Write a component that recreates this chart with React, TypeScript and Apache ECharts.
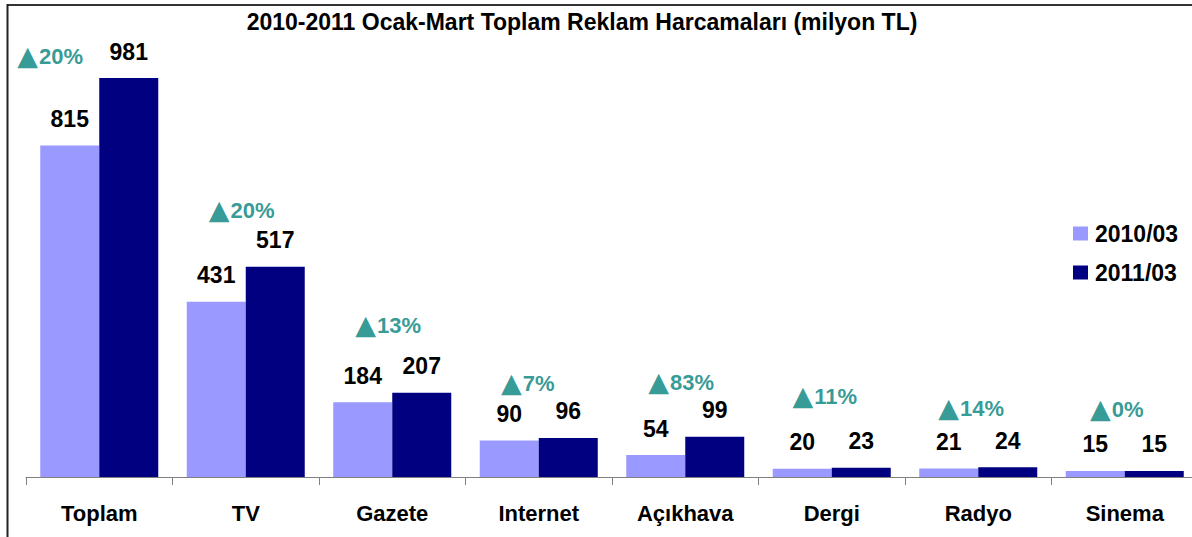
import React, { useEffect, useRef } from "react";
import * as echarts from "echarts";

const categories = ["Toplam", "TV", "Gazete", "Internet", "Açıkhava", "Dergi", "Radyo", "Sinema"];
const values2010 = [815, 431, 184, 90, 54, 20, 21, 15];
const values2011 = [981, 517, 207, 96, 99, 23, 24, 15];
const changePct = [20, 20, 13, 7, 83, 11, 14, 0];
const seriesNames = ["2010/03", "2011/03"];
const titleText = "2010-2011 Ocak-Mart Toplam Reklam Harcamaları (milyon TL)";

// label placement (pixel offsets from the top of the taller bar in each group)
const pctLabelOffsets = [
  [-49, -21.5],
  [-4, -56],
  [-4, -67],
  [-11, -54],
  [-4, -54],
  [-7, -71],
  [-7, -59],
  [-8, -61],
];

const FONT = 'Arial, "Liberation Sans", sans-serif';
const TEAL = "#007F7A";

export default function App() {
  const ref = useRef<HTMLDivElement>(null);
  useEffect(() => {
    if (!ref.current) return;
    const chart = echarts.init(ref.current, undefined, { renderer: "svg" });
    const valueLabel = {
      show: true,
      position: "top",
      distance: 15,
      fontSize: 23,
      fontWeight: "bold",
      color: "#000",
      fontFamily: FONT,
    };
    chart.setOption({
      animation: false,
      backgroundColor: "#fff",
      textStyle: { fontFamily: FONT },
      title: {
        text: titleText,
        left: 582,
        textAlign: "center",
        top: 10,
        padding: 0,
        textStyle: { fontSize: 23, fontWeight: "bold", color: "#000", fontFamily: FONT },
      },
      legend: {
        data: seriesNames,
        orient: "vertical",
        left: 1073,
        top: 222,
        padding: 0,
        itemWidth: 15,
        itemHeight: 14,
        itemGap: 16,
        icon: "rect",
        textStyle: {
          fontSize: 23,
          fontWeight: "bold",
          color: "#000",
          fontFamily: FONT,
          padding: [0, 0, 0, 2],
        },
      },
      grid: { left: 26, right: 0, top: 70.3, bottom: 60, containLabel: false },
      xAxis: {
        type: "category",
        data: categories,
        axisLine: { lineStyle: { color: "#808080", width: 1 } },
        axisTick: { show: true, length: 8, lineStyle: { color: "#808080" } },
        axisLabel: {
          margin: 25,
          fontSize: 22,
          fontWeight: "bold",
          color: "#000",
          fontFamily: FONT,
        },
      },
      yAxis: { type: "value", min: 0, max: 1000, show: false, splitLine: { show: false } },
      series: [
        {
          name: seriesNames[0],
          type: "bar",
          data: values2010,
          barWidth: 59,
          barGap: "0%",
          itemStyle: { color: "#9999FF" },
          label: valueLabel,
        },
        {
          name: seriesNames[1],
          type: "bar",
          data: values2011,
          barWidth: 59,
          barGap: "0%",
          itemStyle: { color: "#000080" },
          label: valueLabel,
        },
        {
          name: "change",
          type: "scatter",
          symbolSize: 1,
          clip: false,
          itemStyle: { color: "rgba(0,0,0,0)" },
          silent: true,
          data: categories.map((c, i) => ({
            value: [i, Math.max(values2010[i], values2011[i])],
            label: { offset: pctLabelOffsets[i] },
          })),
          label: {
            show: true,
            position: "inside",
            formatter: (p: any) => "{tri|▲}{num|" + changePct[p.dataIndex] + "%}",
            rich: {
              tri: {
                fontSize: 27,
                fontFamily: '"DejaVu Sans", sans-serif',
                color: TEAL,
                padding: [0, 1, 2, 0],
              },
              num: {
                fontSize: 22,
                fontWeight: "bold",
                color: TEAL,
                fontFamily: FONT,
              },
            },
          },
        },
      ],
      graphic: [
        {
          type: "line",
          shape: { x1: 7, y1: 5, x2: 1200, y2: 5 },
          style: { stroke: "#333", lineWidth: 2 },
        },
        {
          type: "line",
          shape: { x1: 7.5, y1: 4, x2: 7.5, y2: 537 },
          style: { stroke: "#222", lineWidth: 2 },
        },
      ],
    });
    return () => chart.dispose();
  }, []);
  return (
    <div
      ref={ref}
      style={{ position: "fixed", left: 0, top: 0, width: 1198, height: 537 }}
    />
  );
}
